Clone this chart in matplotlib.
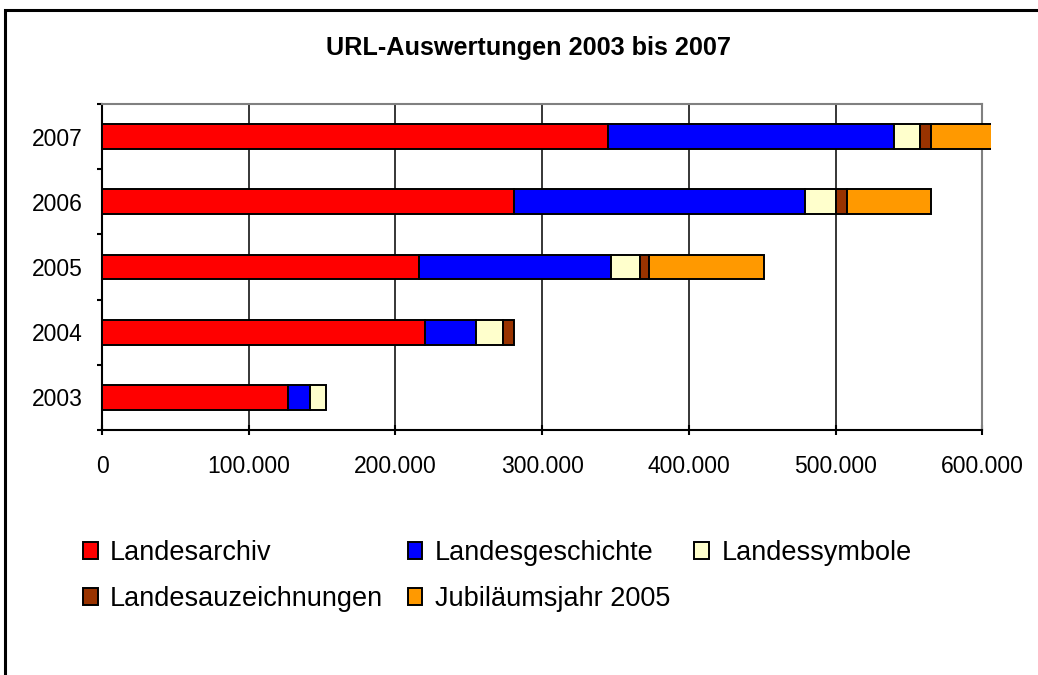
import numpy as np
import matplotlib.pyplot as plt
from matplotlib.patches import Rectangle, Patch
from matplotlib.ticker import FuncFormatter, MultipleLocator
from matplotlib.transforms import Bbox, TransformedBbox

plt.rcParams['font.family'] = ['Liberation Sans', 'DejaVu Sans']

# data
years = ['2003', '2004', '2005', '2006', '2007']
landesarchiv = [127000, 220000, 216000, 281000, 345000]
landesgeschichte = [15000, 35000, 131000, 198000, 194500]
landessymbole = [11000, 18000, 20000, 21500, 18000]
landesauszeichnungen = [0, 8000, 6000, 7500, 7500]
jubilaeum = [0, 0, 78000, 57000, 45000]

names = ['Landesarchiv', 'Landesgeschichte', 'Landessymbole',
         'Landesauzeichnungen', 'Jubiläumsjahr 2005']
colors = ['#FF0000', '#0000FF', '#FFFFCC', '#993300', '#FF9900']
series = [landesarchiv, landesgeschichte, landessymbole,
          landesauszeichnungen, jubilaeum]

fig = plt.figure(figsize=(10.38, 6.75), dpi=100)
ax = fig.add_axes([0.0983, 0.363, 0.848, 0.483])

# bars may run a little past the plot area, like in the original
clip = TransformedBbox(Bbox([[0, 0], [1.01, 1]]), ax.transAxes)

y = np.arange(len(years))
left = np.zeros(len(years))
handles = []
for vals, name, col in zip(series, names, colors):
    vals = np.array(vals, dtype=float)
    bars = ax.barh(y, vals, left=left, height=0.38, color=col,
                   edgecolor='black', linewidth=1.4, zorder=3)
    for b, v in zip(bars, vals):
        b.set_clip_box(clip)
        if v == 0:
            b.set_visible(False)
    handles.append(Patch(facecolor=col, edgecolor='black', linewidth=1.4))
    left += vals

ax.set_xlim(0, 600000)
ax.set_ylim(-0.5, 4.5)
ax.xaxis.set_major_locator(MultipleLocator(100000))
ax.xaxis.set_major_formatter(FuncFormatter(lambda v, p: f"{int(v):,}".replace(",", ".")))
ax.xaxis.grid(True, color='black', linewidth=1.1)
ax.set_axisbelow(True)

ax.set_yticks(np.arange(-0.5, 5, 1))
ax.set_yticklabels([])
ax.set_yticks(y, minor=True)
ax.set_yticklabels(years, minor=True)

ax.tick_params(axis='x', direction='inout', length=7, width=1.5,
               labelsize=16.5, pad=14.5)
ax.tick_params(axis='y', which='major', direction='out', length=3.6, width=1.5)
ax.tick_params(axis='y', which='minor', length=0, labelsize=16.5, pad=14)

for s in ['left', 'bottom']:
    ax.spines[s].set_color('black')
    ax.spines[s].set_linewidth(1.5)
for s in ['top', 'right']:
    ax.spines[s].set_color('#808080')
    ax.spines[s].set_linewidth(1.5)

fig.text(0.509, 0.929, 'URL-Auswertungen 2003 bis 2007', ha='center', va='center',
         fontsize=18.2, fontweight='bold')

# legend filled row by row (matplotlib fills columns first)
order = [0, 3, 1, 4, 2]
fig.legend([handles[i] for i in order], [names[i] for i in order],
           loc='upper left', bbox_to_anchor=(83 / 1038, 1 - 540 / 675),
           ncol=3, frameon=False, fontsize=19.5, borderpad=0, borderaxespad=0,
           handlelength=0.55, handleheight=0.6, handletextpad=0.45,
           columnspacing=0.9, labelspacing=0.74)

# outer chart frame, cut off at right and bottom
fig.patches.append(Rectangle((5 / 1038, -0.1), 1.2, 1 - 10 / 675 + 0.1,
                             transform=fig.transFigure, fill=False,
                             linewidth=2.2, edgecolor='black'))

fig.savefig('out.png', dpi=100)
